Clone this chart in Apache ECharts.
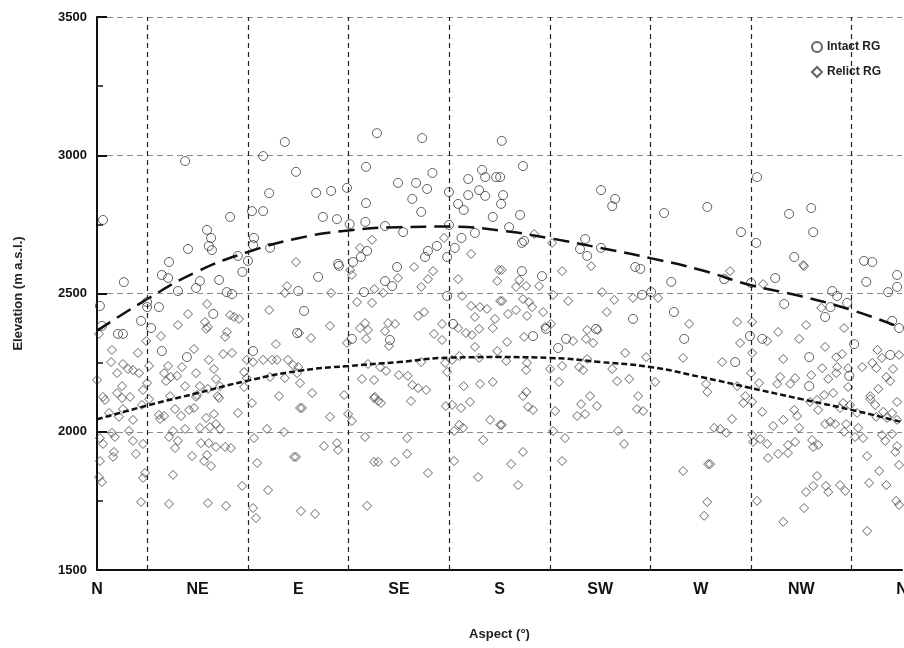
<!DOCTYPE html>
<html>
<head>
<meta charset="utf-8">
<script src="https://cdn.jsdelivr.net/npm/echarts@6/dist/echarts.min.js"></script>
<style>
  html, body { margin: 0; padding: 0; background: #fff; }
  #main { width: 904px; height: 648px; }
</style>
</head>
<body>
<div id="main"></div>
<script>
// aspect in degrees (0 = N), elevation in m a.s.l.
var aspectNames = ['N', 'NE', 'E', 'SE', 'S', 'SW', 'W', 'NW', 'N'];
var sectorBounds = [22.5, 67.5, 112.5, 157.5, 202.5, 247.5, 292.5, 337.5];

var intact = [
  [2.7,2766],[39.4,2979],[84,3048],[74.3,2997],[89,2940],[77,2863],[69.3,2798],[74.3,2798],[59.5,2777],[49.2,2730],
  [51,2701],[50,2672],[51.4,2657],[40.7,2661],[32.2,2614],[70.2,2701],[69.8,2675],[77.4,2665],[63,2636],[67.5,2618],
  [29,2567],[31.8,2556],[12,2541],[36.2,2509],[44.3,2520],[46,2545],[54.6,2549],[58,2505],[60.4,2498],[65,2578],
  [90,2509],[1.3,2455],[22.4,2469],[22.4,2451],[27.7,2451],[52,2426],[19.7,2401],[24.2,2375],[2.2,2383],[11.6,2354],
  [9.4,2354],[29,2292],[40.2,2270],[89.5,2357],[69.8,2292],
  [125.2,3080],[145.4,3062],[181,3052],[120.3,2958],[150,2936],[134.6,2900],[142.7,2900],[147.6,2878],[141,2842],[145,2795],
  [98,2864],[104.7,2871],[111.8,2882],[120.3,2827],[101,2777],[107.3,2769],[113,2751],[120,2759],[128.8,2744],[136.9,2722],
  [157.4,2867],[157.4,2748],[161.5,2824],[164,2802],[166,2914],[172.2,2947],[173.6,2921],[170.9,2874],[166,2856],[173.6,2853],
  [178.5,2921],[180.3,2921],[181.6,2856],[180.7,2824],[177,2777],[169,2719],[163,2701],[160,2665],[152,2672],[148,2654],
  [146.7,2632],[156.6,2632],[120.8,2654],[118,2632],[114.5,2614],[107.8,2607],
  [190.5,2961],[189.2,2784],[184.3,2740],[190,2683],[191,2690],[225.4,2874],[231.7,2842],[230.4,2816],[253.6,2791],[272.9,2813],
  [218.3,2697],[216,2661],[219.2,2636],[225.4,2665],
  [295.2,2921],[309.5,2788],[319.4,2809],[288,2722],[320.3,2722],[294.8,2683],[311.8,2632],[343,2618],[346.7,2614],
  [190,2581],[199,2563],[240.7,2596],[243,2589],[256.8,2542],[243.8,2495],[247.8,2505],[239.7,2408],[258,2433],[262.6,2336],
  [195,2346],[200.8,2372],[209.8,2336],[206.2,2303],[223.2,2372],
  [108.2,2600],[98.9,2560],[134.2,2596],[128.8,2545],[132,2527],[119.4,2505],[92.6,2437],[114,2336],[131,2332],[156.6,2491],
  [159.2,2390],
  [280.5,2552],[292.5,2538],[303.3,2556],[307.3,2462],[328.8,2509],[331,2491],[335.5,2466],[328,2451],[325.6,2415],[344,2542],
  [357.8,2567],[357.8,2524],[353.8,2505],[355.6,2401],[358.7,2375],[292,2346],[297.5,2336],[285.4,2252],[318.5,2270],[318.5,2165],
  [336.4,2202],[338.6,2317],[354.7,2278]
];

var relict = [
  [89,2614],[123,2694],[117.6,2665],[155.2,2701],[167.3,2643],[195.5,2715],[203.5,2683],[315.8,2603],
  [85,2527],[84,2502],[49.2,2462],[77,2440],[40.7,2426],[59.5,2422],[61.3,2415],[63.5,2408],[48.3,2397],[49.6,2379],
  [48.8,2372],[36.2,2386],[58.1,2361],[57.3,2343],[28.6,2346],[22,2328],[0.9,2354],[6.7,2296],[18.3,2285],[43.4,2299],
  [56.4,2281],[60.4,2285],[80,2317],[6.3,2252],[11.6,2245],[9,2212],[13.9,2227],[16.1,2223],[18.8,2212],[23.3,2238],
  [31.8,2238],[38,2234],[44.3,2212],[50,2260],[52.3,2227],[53.2,2191],[30,2212],[30.9,2183],[33,2198],[35.8,2202],
  [39.4,2165],[46,2165],[49.6,2155],[55,2165],[65.8,2216],[67,2260],[69.8,2252],[74.3,2260],[78.3,2260],[80.5,2260],
  [85.4,2260],[87.7,2241],[89.5,2212],[84,2194],[77.4,2198],[67,2194],[65.8,2162],[81.4,2129],[0,2187],[2.7,2126],
  [11.2,2165],[9,2140],[14.8,2126],[20.6,2151],[22.4,2176],[44.7,2133],[54,2129],[32.7,2129],
  [3.6,2115],[11.2,2122],[16.1,2043],[5.4,2068],[9.8,2054],[11.6,2082],[20.1,2097],[23.3,2118],[27.7,2061],[28.2,2046],
  [30,2057],[34.9,2082],[37.6,2057],[41.2,2079],[43.4,2086],[44.3,2126],[54.6,2122],[48.8,2050],[52.3,2064],[53.2,2028],
  [50.5,2017],[46,2014],[55,2010],[63,2068],[69.3,2104],[90.8,2086],[1.3,1977],[2.7,1956],[6.7,1996],[8,1981],
  [14.3,2003],[16.1,1967],[20.6,1956],[7.6,1927],[7.2,1909],[17.4,1920],[1.3,1894],[0.9,1836],[2.2,1818],[21.5,1851],
  [20.6,1833],[19.7,1746],[32.2,1739],[34,1844],[32.2,1981],[34,2003],[34.9,1941],[36.2,1967],[39.4,2010],[42.5,1912],
  [46.5,1959],[49.2,1916],[47.9,1894],[51,1876],[50,1959],[53.2,1945],[57.3,1945],[59.9,1941],[49.6,1742],[57.7,1732],
  [64.9,1804],[70.2,1977],[71.6,1887],[76,2010],[83.6,1999],[76.5,1789],[69.8,1724],[71.1,1688],[88.1,1909],
  [141.8,2596],[150.3,2581],[145,2524],[148,2552],[134.6,2556],[161.5,2552],[179,2545],[179.8,2585],[114,2567],[113.2,2585],
  [104.7,2502],[124,2516],[128,2502],[116.3,2469],[123,2466],[163.3,2491],[167.3,2455],[171.3,2451],[174.4,2444],[180.3,2473],
  [143.6,2419],[146.3,2433],[169,2415],[104.2,2383],[90.4,2357],[95.7,2339],[117.6,2375],[119.9,2393],[121.2,2368],[120.3,2336],
  [128.8,2364],[130.2,2393],[133.3,2390],[154.3,2390],[150.7,2354],[154.3,2332],[161.5,2375],[165,2357],[167.7,2350],[170.9,2372],
  [177,2375],[178,2408],[179,2292],[169,2307],[111.8,2321],[130.6,2310],[90,2234],[90.8,2176],[96.2,2140],[110.5,2133],
  [121.2,2245],[126.6,2234],[129.3,2220],[118.5,2191],[123.9,2187],[135,2205],[139,2202],[141,2169],[143.6,2158],[147.2,2151],
  [145,2252],[156.6,2216],[155.7,2249],[158.8,2260],[162,2274],[164,2165],[171.3,2173],[177,2180],[170.9,2267],[124.3,2126],
  [91.7,2086],[104.2,2054],[112.3,2064],[114,2039],[123.9,2122],[125.7,2111],[127,2104],[140.4,2111],[156,2093],[158.8,2097],
  [162.8,2086],[166.8,2108],[175.8,2043],[180.3,2025],[162,2025],[163.7,2014],[159.7,2003],[172.7,1970],[119.9,1981],[138.7,1977],
  [101.5,1948],[107.3,1959],[107.8,1934],[89,1909],[123.9,1891],[125.7,1891],[133.3,1891],[138.7,1920],[148,1851],[159.7,1894],
  [170.4,1836],[91.2,1713],[97.5,1703],[120.8,1732],
  [181,2585],[187.4,2524],[191.9,2527],[188.8,2549],[197.7,2527],[208,2581],[221,2599],[181.2,2473],[190.5,2480],[193.2,2469],
  [194.6,2451],[187.4,2440],[183.8,2426],[192.3,2419],[199.5,2433],[204,2495],[210.7,2473],[225.9,2505],[231.3,2477],[239.7,2484],
  [250.9,2484],[228,2433],[203,2390],[200.4,2379],[191,2343],[183.4,2325],[219.2,2368],[224,2368],[218.7,2336],[221.9,2321],
  [212.9,2328],[236.2,2285],[245.6,2270],[262.1,2267],[264.8,2390],[183,2256],[192.3,2249],[191.9,2223],[202.6,2227],[208,2238],
  [215.6,2234],[217.4,2223],[219.2,2263],[230.4,2227],[206.6,2180],[232.6,2183],[238,2191],[249.6,2180],[272.4,2173],[192,2144],
  [190.5,2129],[220.5,2129],[242,2129],
  [192.8,2090],[195,2079],[204.9,2075],[216.5,2100],[223.6,2093],[214.7,2057],[218.3,2064],[241.5,2082],[244.2,2075],[181,2025],
  [204,2003],[209.3,1977],[233,2003],[235.7,1956],[190.5,1927],[185.2,1883],[188.3,1807],[208,1894],[262.1,1858],[273.3,1883],
  [272.9,1746],[271.5,1696],
  [283.1,2581],[316.2,2599],[297.9,2534],[323.9,2448],[286.3,2397],[293,2397],[304.6,2361],[317.1,2386],[334.1,2375],[287.6,2321],
  [299.7,2328],[314,2336],[293,2285],[279.6,2252],[306.9,2263],[325.6,2307],[330.6,2270],[333.2,2281],[349,2296],[351,2267],
  [358.7,2278],[292.5,2212],[305.5,2198],[312.2,2194],[310,2173],[304.2,2173],[319.4,2205],[324.3,2230],[327,2191],[331,2234],
  [330.6,2212],[335.9,2230],[342.2,2234],[346.7,2249],[348.5,2230],[356,2227],[353,2198],[354.7,2183],[335.9,2162],[272.9,2144],
  [286.3,2165],[296.1,2176],[289.9,2129],[325.2,2133],[329.2,2140],[345.8,2129],[349.4,2155],
  [289,2104],[293,2108],[297.5,2072],[306.9,2043],[302.4,2021],[284,2046],[276,2014],[278.7,2010],[281.4,1996],[293,1988],
  [293.4,1963],[296.6,1974],[299.7,1956],[300.1,1905],[304.6,1920],[309,1923],[309,1952],[312.2,1963],[314,2014],[311.8,2079],
  [313.1,2057],[318.9,2108],[322,2115],[322.5,2079],[325.6,2028],[327.9,2036],[330.1,2028],[332.3,2086],[333.7,2104],[336.8,2097],
  [339.9,2068],[335,2028],[334.1,2000],[319.8,1970],[320.3,1945],[322.5,1952],[339,1981],[340.4,2014],[342.6,1977],[345.8,2118],
  [348,2097],[348.5,2054],[351.6,2072],[353.3,2050],[355.6,2068],[357.8,2108],[357.8,2043],[351.1,1988],[352.5,1967],[355.6,1992],
  [357.8,1948],[357,1927],[344.4,1912],[358.7,1880],[349.8,1858],[345.3,1815],[353,1807],[357.4,1750],[358.7,1735],[344.4,1641],
  [274.2,1883],[295.2,1750],[306.9,1674],[316.2,1724],[317.1,1782],[320.3,1804],[322,1840],[326,1804],[327,1782],[332.3,1807],
  [334.6,1786]
];

// fitted trend lines, every 22.5 degrees
var trendAspect = [0, 22.5, 45, 67.5, 90, 112.5, 135, 157.5, 180, 202.5, 225, 247.5, 270, 292.5, 315, 337.5, 360];
var intactTrend = [2365, 2480, 2580, 2650, 2700, 2728, 2740, 2742, 2728, 2700, 2665, 2628, 2585, 2530, 2490, 2440, 2375];
var relictTrend = [2045, 2095, 2140, 2185, 2220, 2238, 2252, 2268, 2270, 2267, 2252, 2234, 2198, 2158, 2118, 2079, 2035];

function pairs(xs, ys) {
  return xs.map(function (x, i) { return [x, ys[i]]; });
}

var font = 'Liberation Sans, Arial, sans-serif';
var ink = '#3c3c3c';

var chart = echarts.init(document.getElementById('main'));
chart.setOption({
  animation: false,
  backgroundColor: '#fff',
  grid: { left: 97, right: 2, top: 17, bottom: 78, outerBoundsMode: 'none', containLabel: false },
  legend: {
    data: ['Intact RG', 'Relict RG'],
    orient: 'vertical',
    left: 807,
    top: 39,
    itemWidth: 10,
    itemHeight: 10,
    itemGap: 13,
    backgroundColor: '#fff',
    padding: [2, 4],
    textStyle: { fontFamily: font, fontWeight: 'bold', fontSize: 12, color: '#222' }
  },
  xAxis: {
    type: 'value',
    min: 0,
    max: 360,
    interval: 45,
    name: 'Aspect (°)',
    nameLocation: 'middle',
    nameGap: 58,
    nameTextStyle: { fontFamily: font, fontWeight: 'bold', fontSize: 13, color: '#222' },
    axisLine: { lineStyle: { color: '#111', width: 2 } },
    axisTick: { show: false },
    splitLine: { show: false },
    axisLabel: {
      margin: 12,
      fontFamily: font, fontWeight: 'bold', fontSize: 16, color: '#111',
      formatter: function (v) { return aspectNames[Math.round(v / 45)]; }
    }
  },
  yAxis: {
    type: 'value',
    min: 1500,
    max: 3500,
    interval: 500,
    name: 'Elevation (m a.s.l.)',
    nameLocation: 'middle',
    nameGap: 72,
    nameTextStyle: { fontFamily: font, fontWeight: 'bold', fontSize: 13, color: '#222' },
    axisLine: { show: true, lineStyle: { color: '#111', width: 2 } },
    axisTick: { show: true, inside: true, length: 10, lineStyle: { color: '#111', width: 2 } },
    minorTick: { show: true, splitNumber: 2, length: 6, lineStyle: { color: '#111', width: 1.5 } },
    splitLine: { show: true, lineStyle: { color: '#8a8a8a', type: [6, 4], width: 1.2 } },
    axisLabel: {
      margin: 10, fontFamily: font, fontWeight: 'bold', fontSize: 13, color: '#111',
      formatter: function (v) { return String(v); }
    }
  },
  series: [
    {
      name: 'Intact RG',
      type: 'scatter',
      symbol: 'circle',
      symbolSize: 9,
      data: intact,
      itemStyle: { color: 'rgba(255,255,255,0)', borderColor: ink, borderWidth: 1 },
      markLine: {
        silent: true,
        symbol: 'none',
        label: { show: false },
        lineStyle: { color: '#222', type: [5, 4], width: 1.2 },
        data: sectorBounds.map(function (x) { return { xAxis: x }; })
      },
      z: 3
    },
    {
      name: 'Relict RG',
      type: 'scatter',
      symbol: 'diamond',
      symbolSize: 9,
      data: relict,
      itemStyle: { color: 'rgba(255,255,255,0)', borderColor: ink, borderWidth: 1 },
      z: 3
    },
    {
      name: 'intact trend',
      type: 'line',
      smooth: true,
      symbol: 'none',
      data: pairs(trendAspect, intactTrend),
      lineStyle: { color: '#111', width: 2.5, type: [16, 8] },
      z: 4
    },
    {
      name: 'relict trend',
      type: 'line',
      smooth: true,
      symbol: 'none',
      data: pairs(trendAspect, relictTrend),
      lineStyle: { color: '#111', width: 2.5, type: [6, 3] },
      z: 4
    }
  ]
});
</script>
</body>
</html>
